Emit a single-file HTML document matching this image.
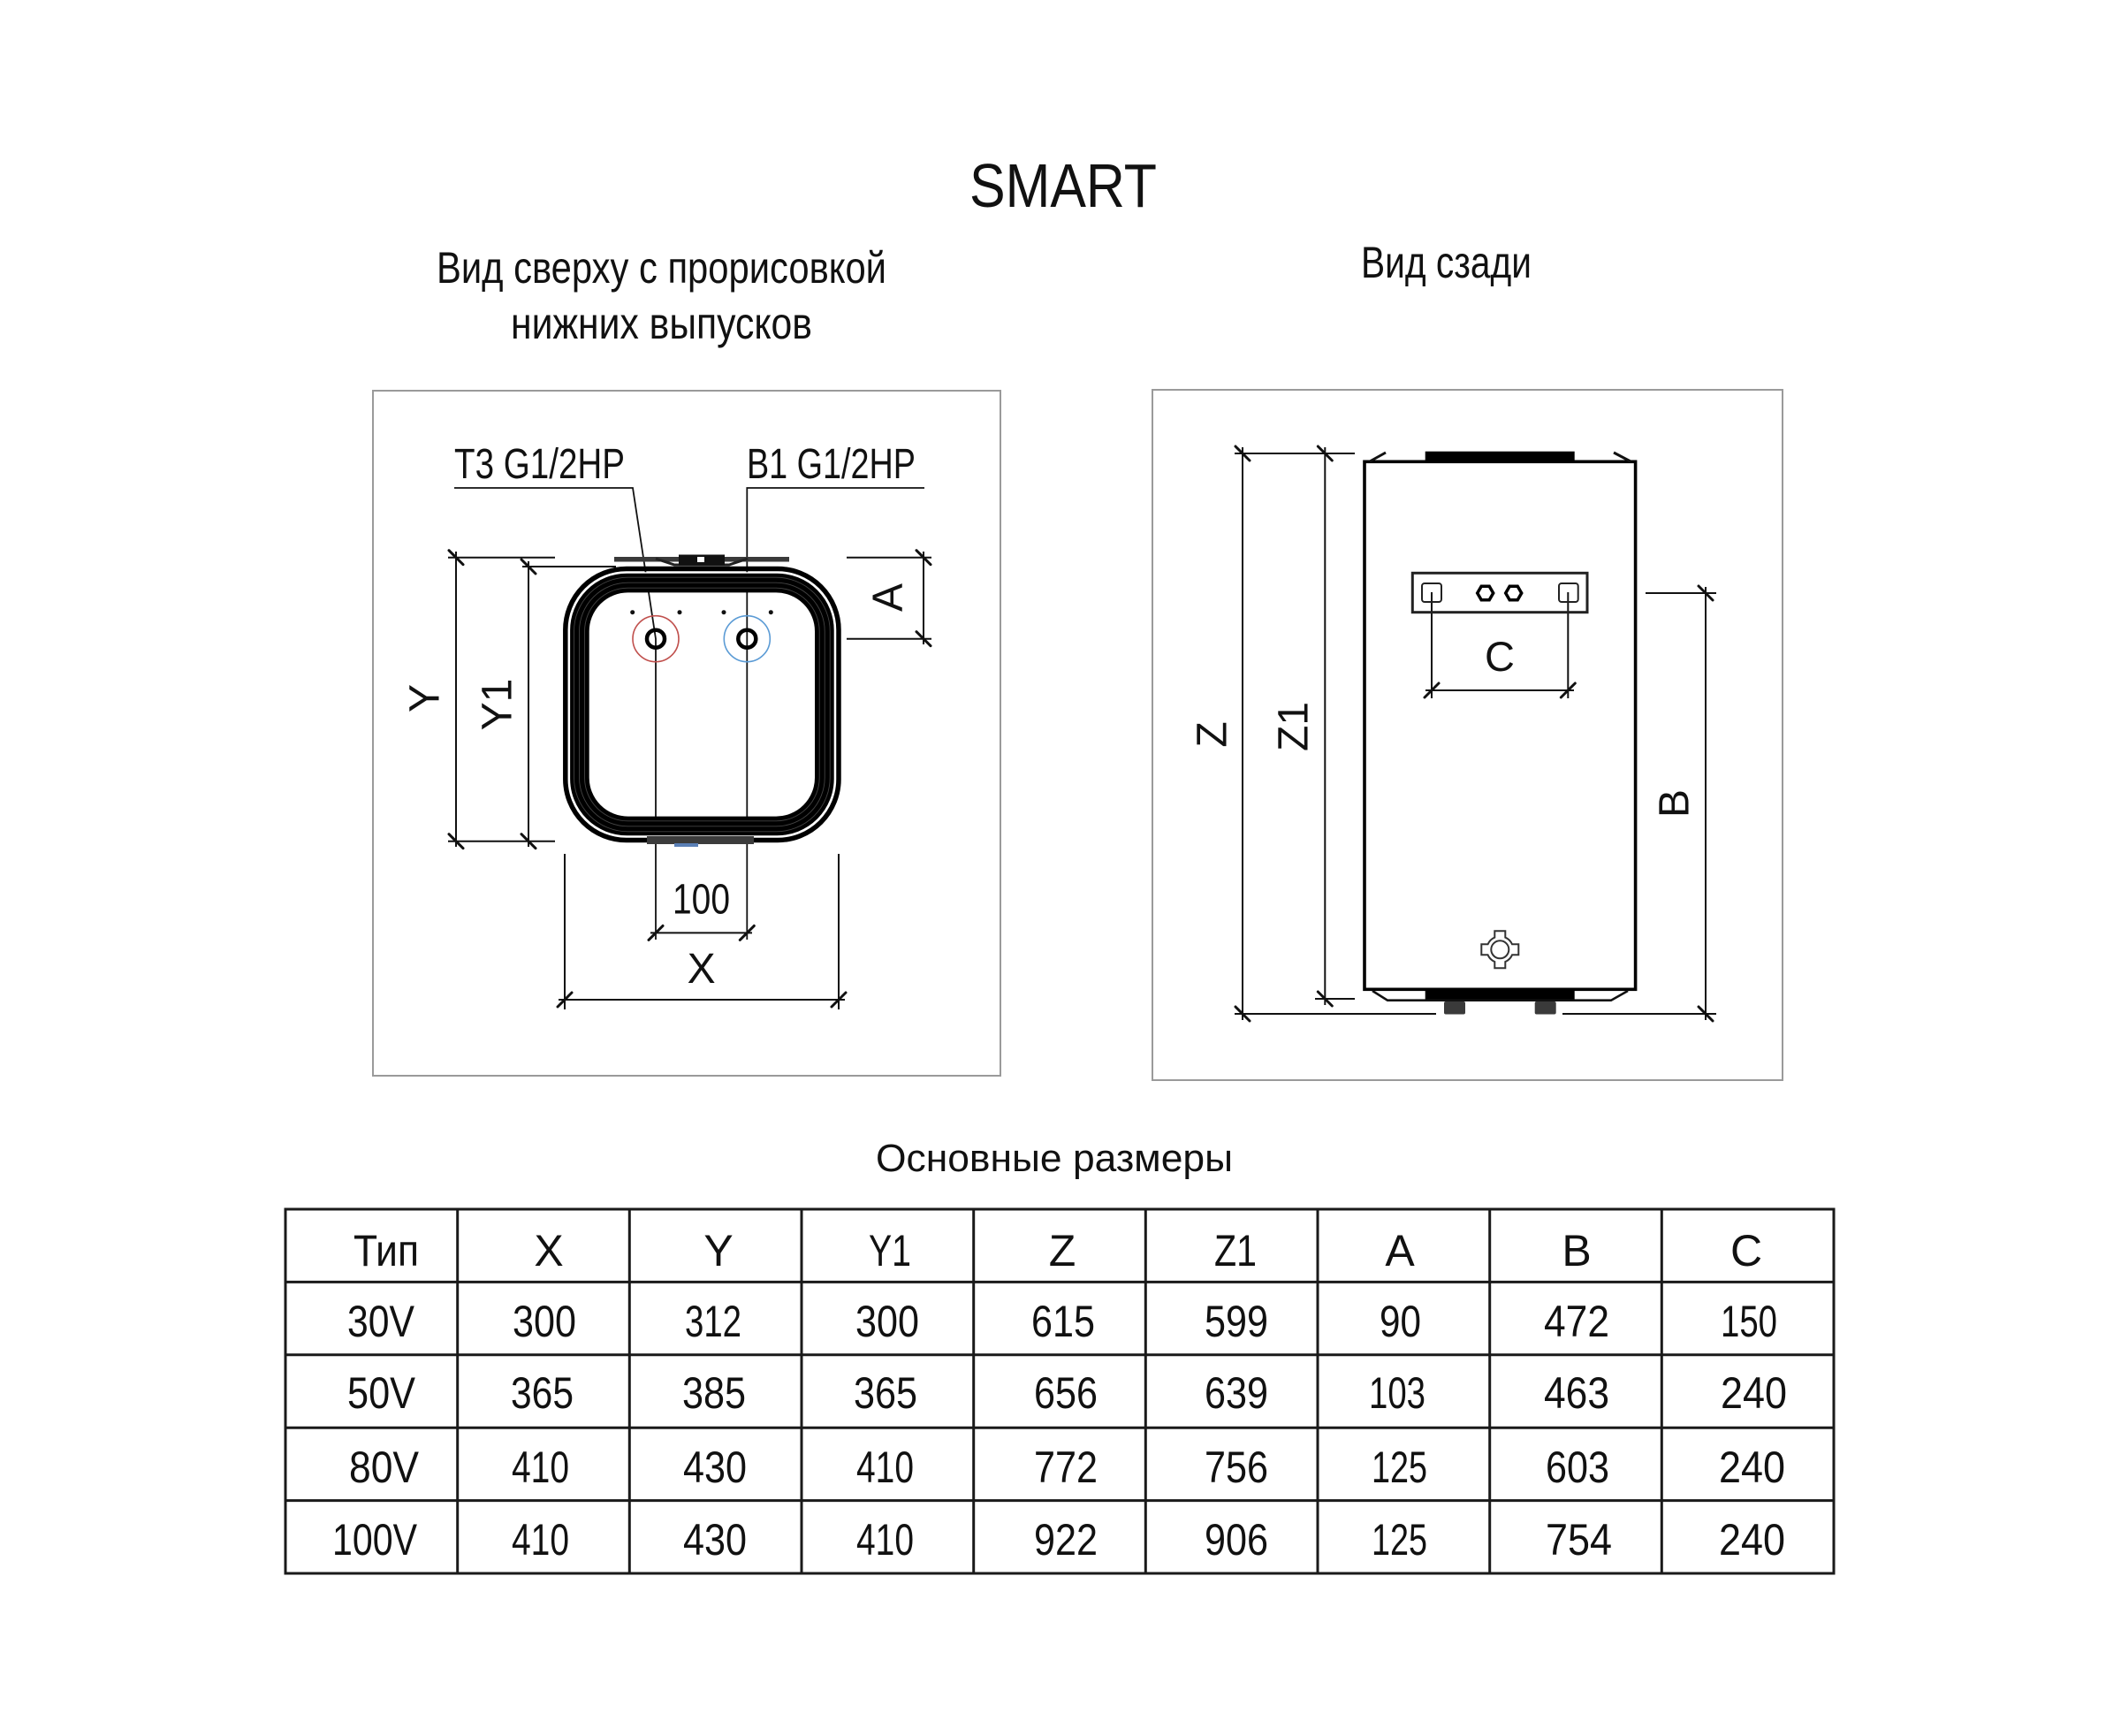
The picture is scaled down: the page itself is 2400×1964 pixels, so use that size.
<!DOCTYPE html>
<html><head><meta charset="utf-8"><style>
html,body{margin:0;padding:0;background:#fff;}
svg{display:block;}
text{font-family:"Liberation Sans","DejaVu Sans",sans-serif;fill:#111;}
</style></head><body>
<svg width="2400" height="1964" viewBox="0 0 2400 1964" xmlns="http://www.w3.org/2000/svg">
<rect x="0" y="0" width="2400" height="1964" fill="#fff"/>

<!-- Titles -->
<text x="1097" y="234" font-size="70" textLength="212" lengthAdjust="spacingAndGlyphs">SMART</text>
<text x="494" y="320" font-size="50" textLength="509" lengthAdjust="spacingAndGlyphs">Вид сверху с прорисовкой</text>
<text x="578" y="383" font-size="50" textLength="341" lengthAdjust="spacingAndGlyphs">нижних выпусков</text>
<text x="1540" y="314" font-size="50" textLength="193" lengthAdjust="spacingAndGlyphs">Вид сзади</text>
<text x="991" y="1325" font-size="44" textLength="404" lengthAdjust="spacingAndGlyphs">Основные размеры</text>

<!-- Panel boxes -->
<rect x="422" y="442" width="710" height="775" fill="none" stroke="#9a9a9a" stroke-width="2"/>
<rect x="1304" y="441" width="713" height="781" fill="none" stroke="#9a9a9a" stroke-width="2"/>

<!-- ===== LEFT PANEL ===== -->
<g stroke="#111" fill="none" stroke-width="2">
  <line x1="516" y1="624" x2="516" y2="958"/>
  <line x1="507" y1="630.7" x2="628" y2="630.7"/>
  <line x1="507" y1="951.7" x2="628" y2="951.7"/>
  <line x1="598" y1="635" x2="598" y2="958"/>
  <line x1="591" y1="641" x2="697" y2="641"/>
  <line x1="1045" y1="624" x2="1045" y2="729"/>
  <line x1="958" y1="630.7" x2="1054" y2="630.7"/>
  <line x1="958" y1="722.7" x2="1054" y2="722.7"/>
  <line x1="639" y1="966" x2="639" y2="1142"/>
  <line x1="949" y1="966" x2="949" y2="1142"/>
  <line x1="632" y1="1131" x2="956" y2="1131"/>
  <line x1="736" y1="1055.4" x2="851" y2="1055.4"/>
  <polyline points="514,552 716,552 742,722.7 742,1063" stroke-width="1.8"/>
  <polyline points="1046,552 845.3,552 845.3,1063" stroke-width="1.8"/>
</g>
<g stroke="#111" stroke-width="3" stroke-linecap="round">
  <line x1="508" y1="622.7" x2="524" y2="638.7"/>
  <line x1="508" y1="943.7" x2="524" y2="959.7"/>
  <line x1="590" y1="633" x2="606" y2="649"/>
  <line x1="590" y1="943.7" x2="606" y2="959.7"/>
  <line x1="1037" y1="622.7" x2="1053" y2="638.7"/>
  <line x1="1037" y1="714.7" x2="1053" y2="730.7"/>
  <line x1="631" y1="1139" x2="647" y2="1123"/>
  <line x1="941" y1="1139" x2="957" y2="1123"/>
  <line x1="734" y1="1063.4" x2="750" y2="1047.4"/>
  <line x1="837.3" y1="1063.4" x2="853.3" y2="1047.4"/>
</g>

<!-- top bracket -->
<rect x="695" y="630" width="198" height="5.5" fill="#3a3a3a"/>
<polyline points="742,632 763,639 825,639 846,632" fill="none" stroke="#222" stroke-width="3"/>
<rect x="768" y="627.5" width="52" height="12" fill="#111"/>
<rect x="789" y="630" width="8" height="6" fill="#fff"/>

<!-- tank (top view) -->
<rect x="655.5" y="659.2" width="277.7" height="275.6" rx="55" fill="none" stroke="#000" stroke-width="22.4"/>
<rect x="649.5" y="653.2" width="289.7" height="287.6" rx="61" fill="none" stroke="#444" stroke-width="0.9"/>
<rect x="655.5" y="659.2" width="277.7" height="275.6" rx="55" fill="none" stroke="#444" stroke-width="0.9"/>
<rect x="661.5" y="665.2" width="265.7" height="263.6" rx="49" fill="none" stroke="#444" stroke-width="0.9"/>
<rect x="639.8" y="643.5" width="309.2" height="307" rx="69" fill="none" stroke="#000" stroke-width="5.5"/>
<rect x="644.3" y="648" width="300.2" height="298" rx="65" fill="none" stroke="#fff" stroke-width="1.6"/>

<!-- bottom strip -->
<rect x="732" y="946" width="121" height="9" fill="#3c3c3c"/>
<rect x="763" y="954" width="27" height="4" fill="#5a7fb5"/>

<!-- dots -->
<g fill="#111">
  <circle cx="715.7" cy="692.7" r="2.5"/>
  <circle cx="769" cy="692.7" r="2.5"/>
  <circle cx="819" cy="692.7" r="2.5"/>
  <circle cx="872.3" cy="692.7" r="2.5"/>
</g>
<circle cx="742" cy="722.7" r="26" fill="none" stroke="#c0504d" stroke-width="1.6"/>
<circle cx="845.3" cy="722.7" r="26" fill="none" stroke="#5b9bd5" stroke-width="1.6"/>
<circle cx="742" cy="722.7" r="10" fill="none" stroke="#000" stroke-width="4.5"/>
<circle cx="845.3" cy="722.7" r="10" fill="none" stroke="#000" stroke-width="4.5"/>

<!-- left labels -->
<text x="514" y="541" font-size="48" textLength="193" lengthAdjust="spacingAndGlyphs">T3 G1/2HP</text>
<text x="845" y="541" font-size="48" textLength="191" lengthAdjust="spacingAndGlyphs">B1 G1/2HP</text>
<text x="761" y="1033.5" font-size="48" textLength="65" lengthAdjust="spacingAndGlyphs">100</text>
<text x="793.6" y="1112" font-size="48" text-anchor="middle">X</text>
<text transform="translate(479,790) rotate(-90)" x="0" y="17.5" font-size="48" text-anchor="middle">Y</text>
<text transform="translate(561,797) rotate(-90)" x="0" y="17.5" font-size="48" text-anchor="middle">Y1</text>
<text transform="translate(1003,676) rotate(-90)" x="0" y="17.5" font-size="48" text-anchor="middle">A</text>

<!-- ===== RIGHT PANEL ===== -->
<g stroke="#111" fill="none" stroke-width="2">
  <line x1="1406" y1="506" x2="1406" y2="1154"/>
  <line x1="1397" y1="513" x2="1533" y2="513"/>
  <line x1="1397" y1="1147" x2="1625" y2="1147"/>
  <line x1="1499.3" y1="506" x2="1499.3" y2="1137"/>
  <line x1="1488" y1="1130" x2="1533" y2="1130"/>
  <line x1="1930" y1="664" x2="1930" y2="1154"/>
  <line x1="1862" y1="671" x2="1942" y2="671"/>
  <line x1="1768" y1="1147" x2="1942" y2="1147"/>
  <line x1="1620" y1="670" x2="1620" y2="790"/>
  <line x1="1774.3" y1="670" x2="1774.3" y2="790"/>
  <line x1="1613" y1="781" x2="1781" y2="781"/>
</g>
<g stroke="#111" stroke-width="3" stroke-linecap="round">
  <line x1="1398" y1="505" x2="1414" y2="521"/>
  <line x1="1398" y1="1139" x2="1414" y2="1155"/>
  <line x1="1491.3" y1="505" x2="1507.3" y2="521"/>
  <line x1="1491.3" y1="1122" x2="1507.3" y2="1138"/>
  <line x1="1922" y1="663" x2="1938" y2="679"/>
  <line x1="1922" y1="1139" x2="1938" y2="1155"/>
  <line x1="1612" y1="789" x2="1628" y2="773"/>
  <line x1="1766.3" y1="789" x2="1782.3" y2="773"/>
</g>

<!-- tank body (rear) -->
<rect x="1612.7" y="510.7" width="169" height="12" fill="#000"/>
<rect x="1544" y="522.3" width="306.6" height="597" fill="none" stroke="#000" stroke-width="3.6"/>
<line x1="1550" y1="522" x2="1568" y2="512" stroke="#111" stroke-width="3"/>
<line x1="1826" y1="512" x2="1845" y2="522" stroke="#111" stroke-width="3"/>
<rect x="1612.7" y="1119" width="169" height="12.7" fill="#000"/>
<polyline points="1553,1121 1570,1131.7 1823,1131.7 1842,1121" fill="none" stroke="#111" stroke-width="2.6"/>
<rect x="1634" y="1133" width="24" height="14.5" rx="2" fill="#3a3a3a"/>
<rect x="1736.7" y="1133" width="24" height="14.5" rx="2" fill="#3a3a3a"/>

<!-- bracket -->
<rect x="1598.3" y="648.3" width="197.7" height="44.4" fill="none" stroke="#222" stroke-width="3"/>
<rect x="1609" y="660" width="22" height="21" rx="3" fill="none" stroke="#222" stroke-width="2"/>
<rect x="1764" y="660" width="21.7" height="21" rx="3" fill="none" stroke="#222" stroke-width="2"/>
<polygon points="1689.7,671 1685.2,678.8 1676.2,678.8 1671.7,671 1676.2,663.2 1685.2,663.2" fill="none" stroke="#000" stroke-width="3.5"/>
<polygon points="1721.7,671 1717.2,678.8 1708.2,678.8 1703.7,671 1708.2,663.2 1717.2,663.2" fill="none" stroke="#000" stroke-width="3.5"/>

<!-- drain fitting -->
<g transform="translate(1697.3,1074.3)" fill="#fff" stroke="#333" stroke-width="2">
  <path d="M6,-13.75 L6,-21 L-6,-21 L-6,-13.75 A15,15 0 0 0 -13.75,-6 L-21,-6 L-21,6 L-13.75,6 A15,15 0 0 0 -6,13.75 L-6,21 L6,21 L6,13.75 A15,15 0 0 0 13.75,6 L21,6 L21,-6 L13.75,-6 A15,15 0 0 0 6,-13.75 Z"/>
  <circle cx="0" cy="0" r="10"/>
</g>

<!-- right labels -->
<text x="1697" y="759" font-size="47" text-anchor="middle">C</text>
<text transform="translate(1370,831) rotate(-90)" x="0" y="17.5" font-size="48" text-anchor="middle">Z</text>
<text transform="translate(1462,822) rotate(-90)" x="0" y="17.5" font-size="48" text-anchor="middle">Z1</text>
<text transform="translate(1893,909) rotate(-90)" x="0" y="17.5" font-size="48" text-anchor="middle">B</text>

<!-- ===== TABLE ===== -->
<g stroke="#1a1a1a" stroke-width="3" fill="none">
  <rect x="323" y="1368" width="1752" height="412"/>
  <line x1="323" y1="1450.4" x2="2075" y2="1450.4"/>
  <line x1="323" y1="1532.8" x2="2075" y2="1532.8"/>
  <line x1="323" y1="1615.2" x2="2075" y2="1615.2"/>
  <line x1="323" y1="1697.6" x2="2075" y2="1697.6"/>
  <line x1="517.7" y1="1368" x2="517.7" y2="1780"/>
  <line x1="712.3" y1="1368" x2="712.3" y2="1780"/>
  <line x1="907" y1="1368" x2="907" y2="1780"/>
  <line x1="1101.7" y1="1368" x2="1101.7" y2="1780"/>
  <line x1="1296.3" y1="1368" x2="1296.3" y2="1780"/>
  <line x1="1491" y1="1368" x2="1491" y2="1780"/>
  <line x1="1685.7" y1="1368" x2="1685.7" y2="1780"/>
  <line x1="1880.3" y1="1368" x2="1880.3" y2="1780"/>
</g>
<g font-size="50">
  <text x="400" y="1432" textLength="74" lengthAdjust="spacingAndGlyphs">Тип</text>
  <text x="621" y="1432" text-anchor="middle">X</text>
  <text x="813" y="1432" text-anchor="middle">Y</text>
  <text x="983" y="1432" textLength="48" lengthAdjust="spacingAndGlyphs">Y1</text>
  <text x="1202" y="1432" text-anchor="middle">Z</text>
  <text x="1374" y="1432" textLength="48" lengthAdjust="spacingAndGlyphs">Z1</text>
  <text x="1584" y="1432" text-anchor="middle">A</text>
  <text x="1784" y="1432" text-anchor="middle">B</text>
  <text x="1976" y="1432" text-anchor="middle">C</text>

  <text x="393" y="1512" textLength="76" lengthAdjust="spacingAndGlyphs">30V</text>
  <text x="580" y="1512" textLength="72" lengthAdjust="spacingAndGlyphs">300</text>
  <text x="775" y="1512" textLength="64" lengthAdjust="spacingAndGlyphs">312</text>
  <text x="968" y="1512" textLength="72" lengthAdjust="spacingAndGlyphs">300</text>
  <text x="1167" y="1512" textLength="72" lengthAdjust="spacingAndGlyphs">615</text>
  <text x="1363" y="1512" textLength="72" lengthAdjust="spacingAndGlyphs">599</text>
  <text x="1561" y="1512" textLength="47" lengthAdjust="spacingAndGlyphs">90</text>
  <text x="1747" y="1512" textLength="74" lengthAdjust="spacingAndGlyphs">472</text>
  <text x="1947" y="1512" textLength="64" lengthAdjust="spacingAndGlyphs">150</text>

  <text x="393" y="1593" textLength="77" lengthAdjust="spacingAndGlyphs">50V</text>
  <text x="578" y="1593" textLength="71" lengthAdjust="spacingAndGlyphs">365</text>
  <text x="772" y="1593" textLength="72" lengthAdjust="spacingAndGlyphs">385</text>
  <text x="966" y="1593" textLength="72" lengthAdjust="spacingAndGlyphs">365</text>
  <text x="1170" y="1593" textLength="72" lengthAdjust="spacingAndGlyphs">656</text>
  <text x="1363" y="1593" textLength="72" lengthAdjust="spacingAndGlyphs">639</text>
  <text x="1549" y="1593" textLength="64" lengthAdjust="spacingAndGlyphs">103</text>
  <text x="1747" y="1593" textLength="74" lengthAdjust="spacingAndGlyphs">463</text>
  <text x="1947" y="1593" textLength="75" lengthAdjust="spacingAndGlyphs">240</text>

  <text x="395" y="1677" textLength="79" lengthAdjust="spacingAndGlyphs">80V</text>
  <text x="579" y="1677" textLength="65" lengthAdjust="spacingAndGlyphs">410</text>
  <text x="773" y="1677" textLength="72" lengthAdjust="spacingAndGlyphs">430</text>
  <text x="969" y="1677" textLength="65" lengthAdjust="spacingAndGlyphs">410</text>
  <text x="1170" y="1677" textLength="72" lengthAdjust="spacingAndGlyphs">772</text>
  <text x="1363" y="1677" textLength="72" lengthAdjust="spacingAndGlyphs">756</text>
  <text x="1552" y="1677" textLength="63" lengthAdjust="spacingAndGlyphs">125</text>
  <text x="1749" y="1677" textLength="72" lengthAdjust="spacingAndGlyphs">603</text>
  <text x="1945" y="1677" textLength="75" lengthAdjust="spacingAndGlyphs">240</text>

  <text x="376" y="1759" textLength="96" lengthAdjust="spacingAndGlyphs">100V</text>
  <text x="579" y="1759" textLength="65" lengthAdjust="spacingAndGlyphs">410</text>
  <text x="773" y="1759" textLength="72" lengthAdjust="spacingAndGlyphs">430</text>
  <text x="969" y="1759" textLength="65" lengthAdjust="spacingAndGlyphs">410</text>
  <text x="1170" y="1759" textLength="72" lengthAdjust="spacingAndGlyphs">922</text>
  <text x="1363" y="1759" textLength="72" lengthAdjust="spacingAndGlyphs">906</text>
  <text x="1552" y="1759" textLength="63" lengthAdjust="spacingAndGlyphs">125</text>
  <text x="1749" y="1759" textLength="75" lengthAdjust="spacingAndGlyphs">754</text>
  <text x="1945" y="1759" textLength="75" lengthAdjust="spacingAndGlyphs">240</text>
</g>
</svg>
</body></html>
